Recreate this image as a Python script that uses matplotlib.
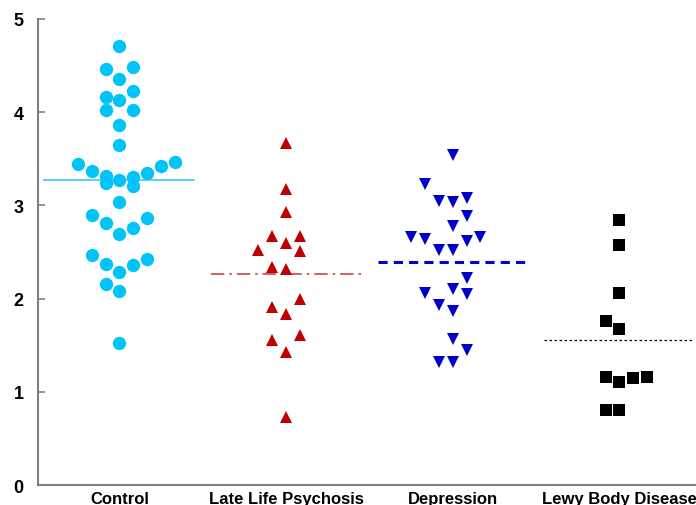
import matplotlib.pyplot as plt

groups = ["Control", "Late Life Psychosis", "Depression", "Lewy Body Disease"]

# values, with the column slot of each point in its swarm
control = [4.71, 4.46, 4.49, 4.36, 4.23, 4.16, 4.13, 4.02, 4.02, 3.86, 3.65,
           3.44, 3.37, 3.32, 3.24, 3.27, 3.30, 3.21, 3.35, 3.42, 3.47,
           3.04, 2.90, 2.81, 2.69, 2.76, 2.87,
           2.47, 2.37, 2.29, 2.36, 2.43, 2.16, 2.08, 1.52]
control_slot = [0, -1, 1, 0, 1, -1, 0, -1, 1, 0, 0,
                -3, -2, -1, -1, 0, 1, 1, 2, 3, 4,
                0, -2, -1, 0, 1, 2,
                -2, -1, 0, 1, 2, -1, 0, 0]

psychosis = [3.67, 3.18, 2.93, 2.67, 2.67, 2.60, 2.52, 2.51, 2.34, 2.32,
             2.00, 1.91, 1.83, 1.56, 1.61, 1.43, 0.73]
psychosis_slot = [0, 0, 0, -1, 1, 0, -2, 1, -1, 0,
                  1, -1, 0, -1, 1, 0, 0]

depression = [3.54, 3.23, 3.05, 3.04, 3.08, 2.89, 2.78, 2.66, 2.64, 2.52, 2.52,
              2.62, 2.66, 2.22, 2.10, 2.06, 2.05, 1.93, 1.87, 1.57, 1.45, 1.32, 1.32]
depression_slot = [0, -2, -1, 0, 1, 1, 0, -3, -2, -1, 0,
                   1, 2, 1, 0, -2, 1, -1, 0, 0, 1, -1, 0]

lewy = [2.84, 2.58, 2.06, 1.76, 1.67, 1.16, 1.11, 1.15, 1.16, 0.80, 0.80]
lewy_slot = [0, 0, 0, -1, 0, -1, 0, 1, 2, -1, 0]

means = [3.27, 2.26, 2.39, 1.56]

step = 0.083
half = 0.45

fig = plt.figure(figsize=(6.96, 5.06), dpi=100)
ax = fig.add_axes([0.0542, 0.0395, 0.9458, 0.921])

series = [
    (control, control_slot, dict(marker="o", color="#00C4F8", ms=9.6)),
    (psychosis, psychosis_slot, dict(marker="^", color="#C00000", ms=9)),
    (depression, depression_slot, dict(marker="v", color="#0000CC", ms=9)),
    (lewy, lewy_slot, dict(marker="s", color="black", ms=8.6)),
]
for i, (vals, slots, st) in enumerate(series):
    xs = [i + s * step for s in slots]
    ax.plot(xs, vals, linestyle="none", marker=st["marker"], color=st["color"],
            markersize=st["ms"], markeredgewidth=0, zorder=3)

line_styles = [
    dict(color="#40C8F0", ls="-", lw=1.2),
    dict(color="#CC4444", ls=(0, (8, 3, 1.5, 3)), lw=1.2),
    dict(color="#0000DD", ls=(0, (3, 2)), lw=2.2),
    dict(color="black", ls=(0, (2, 2)), lw=0.9),
]
for i, (m, st) in enumerate(zip(means, line_styles)):
    ax.plot([i - half, i + half], [m, m], color=st["color"], linestyle=st["ls"],
            linewidth=st["lw"], zorder=2)

ax.set_xlim(-0.49, 3.46)
ax.set_ylim(0, 5)
ax.set_xticks(range(len(groups)))
ax.set_xticklabels(groups, fontsize=12, fontweight="bold", family="Liberation Sans")
ax.set_yticks(range(6))
ax.set_yticklabels([str(v) for v in range(6)], fontsize=13, fontweight="bold",
                   family="Liberation Sans")
ax.tick_params(axis="x", length=0, pad=4)
ax.tick_params(axis="y", direction="in", length=5, color="#808080", width=1.2, pad=10)

for side in ["top", "right"]:
    ax.spines[side].set_visible(False)
for side in ["left", "bottom"]:
    ax.spines[side].set_color("#808080")
    ax.spines[side].set_linewidth(1.5)

fig.savefig("out.png", dpi=100)
